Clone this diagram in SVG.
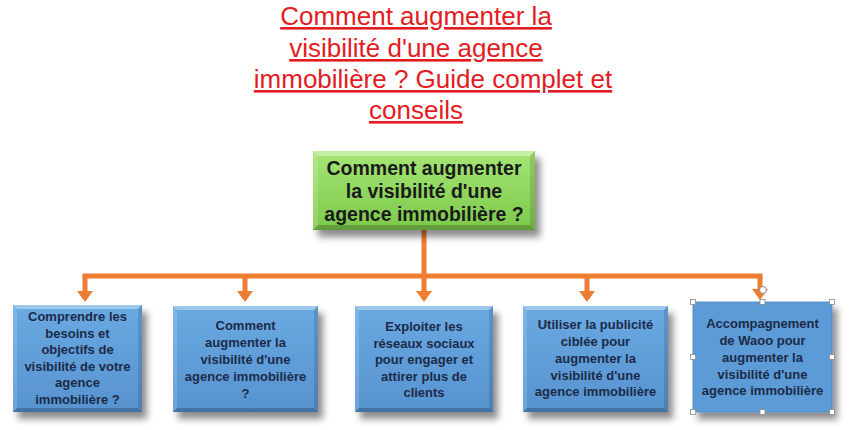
<svg xmlns="http://www.w3.org/2000/svg" width="850" height="430" viewBox="0 0 850 430">
  <defs>
    <style>
      .title { font-family: "Liberation Sans", Arial, sans-serif; font-size: 26px; fill: #e31b23; text-anchor: middle; text-decoration: underline; }
      .gtext { font-family: "Liberation Sans", Arial, sans-serif; font-size: 19.5px; font-weight: bold; fill: #1a1a1a; text-anchor: middle; }
      .btext { font-family: "Liberation Sans", Arial, sans-serif; font-size: 13px; font-weight: bold; fill: #1c2a48; text-anchor: middle; }
      .conn { stroke: #ed7d31; stroke-width: 5; fill: none; }
      .hl { fill: #ffffff; opacity: 0.35; }
      .hs { fill: #ffffff; opacity: 0.15; }
      .dk { fill: #000000; opacity: 0.22; }
      .ds { fill: #000000; opacity: 0.12; }
      .handle { fill: #ffffff; stroke: #8a8a8a; stroke-width: 0.8; }
    </style>
    <linearGradient id="gGreen" x1="0" y1="0" x2="0" y2="1">
      <stop offset="0" stop-color="#a6e676"/>
      <stop offset="1" stop-color="#7cc94a"/>
    </linearGradient>
    <linearGradient id="gBlue" x1="0" y1="0" x2="0" y2="1">
      <stop offset="0" stop-color="#6aa9e2"/>
      <stop offset="1" stop-color="#5793cf"/>
    </linearGradient>
    <filter id="shadow" x="-20%" y="-20%" width="150%" height="150%">
      <feGaussianBlur in="SourceAlpha" stdDeviation="3.5"/>
      <feOffset dx="5" dy="7" result="b"/>
      <feFlood flood-color="#000000" flood-opacity="0.45"/>
      <feComposite in2="b" operator="in"/>
      <feMerge><feMergeNode/><feMergeNode in="SourceGraphic"/></feMerge>
    </filter>
    <marker id="arrow" markerUnits="userSpaceOnUse" viewBox="0 -8 11 16" refX="0" refY="0" markerWidth="11" markerHeight="16" orient="auto">
      <path d="M0,-8 L11,0 L0,8 z" fill="#ed7d31"/>
    </marker>
  </defs>

  <rect width="850" height="430" fill="#ffffff"/>

  <g id="title">
    <text class="title" x="416" y="25">Comment augmenter la</text>
    <text class="title" x="416" y="57">visibilité d'une agence</text>
    <text class="title" x="433" y="88">immobilière ? Guide complet et</text>
    <text class="title" x="416" y="119">conseils</text>
  </g>

  <g id="connectors">
    <path class="conn" d="M424,230 V278"/>
    <path class="conn" d="M82.5,276 H762.5"/>
    <path class="conn" d="M85,276 V291" marker-end="url(#arrow)"/>
    <path class="conn" d="M245,276 V291" marker-end="url(#arrow)"/>
    <path class="conn" d="M424,276 V291" marker-end="url(#arrow)"/>
    <path class="conn" d="M587,276 V291" marker-end="url(#arrow)"/>
    <path class="conn" d="M760,276 V289" marker-end="url(#arrow)"/>
  </g>

  <g id="root">
    <g filter="url(#shadow)">
      <rect x="313" y="151" width="222" height="79" fill="url(#gGreen)"/>
    </g>
    <polygon class="hl" points="313,151 535,151 530,156 318,156"/>
    <polygon class="hs" points="313,151 318,156 318,225 313,230"/>
    <polygon class="ds" points="535,151 530,156 530,225 535,230"/>
    <polygon class="dk" points="313,230 535,230 530,225 318,225"/>
    <text class="gtext" x="424" y="175">Comment augmenter</text>
    <text class="gtext" x="424" y="198">la visibilité d'une</text>
    <text class="gtext" x="424" y="221">agence immobilière ?</text>
  </g>

  <g id="node1">
    <rect x="13" y="305" width="129" height="107" fill="url(#gBlue)" filter="url(#shadow)"/>
    <polygon class="hl" points="13,305 142,305 138,309 17,309"/>
    <polygon class="hs" points="13,305 17,309 17,408 13,412"/>
    <polygon class="ds" points="142,305 138,309 138,408 142,412"/>
    <polygon class="dk" points="13,412 142,412 138,408 17,408"/>
    <text class="btext" x="77.5" y="321">Comprendre les</text>
    <text class="btext" x="77.5" y="337.5">besoins et</text>
    <text class="btext" x="77.5" y="354">objectifs de</text>
    <text class="btext" x="77.5" y="370.5">visibilité de votre</text>
    <text class="btext" x="77.5" y="387">agence</text>
    <text class="btext" x="77.5" y="403.5">immobilière ?</text>
  </g>

  <g id="node2">
    <rect x="173" y="306" width="145" height="106" fill="url(#gBlue)" filter="url(#shadow)"/>
    <polygon class="hl" points="173,306 318,306 314,310 177,310"/>
    <polygon class="hs" points="173,306 177,310 177,408 173,412"/>
    <polygon class="ds" points="318,306 314,310 314,408 318,412"/>
    <polygon class="dk" points="173,412 318,412 314,408 177,408"/>
    <text class="btext" x="245.5" y="330">Comment</text>
    <text class="btext" x="245.5" y="347">augmenter la</text>
    <text class="btext" x="245.5" y="364">visibilité d'une</text>
    <text class="btext" x="245.5" y="381">agence immobilière</text>
    <text class="btext" x="245.5" y="398">?</text>
  </g>

  <g id="node3">
    <rect x="355" y="306" width="138" height="106" fill="url(#gBlue)" filter="url(#shadow)"/>
    <polygon class="hl" points="355,306 493,306 489,310 359,310"/>
    <polygon class="hs" points="355,306 359,310 359,408 355,412"/>
    <polygon class="ds" points="493,306 489,310 489,408 493,412"/>
    <polygon class="dk" points="355,412 493,412 489,408 359,408"/>
    <text class="btext" x="424" y="331">Exploiter les</text>
    <text class="btext" x="424" y="347.5">réseaux sociaux</text>
    <text class="btext" x="424" y="364">pour engager et</text>
    <text class="btext" x="424" y="380.5">attirer plus de</text>
    <text class="btext" x="424" y="397">clients</text>
  </g>

  <g id="node4">
    <rect x="523" y="306" width="145" height="106" fill="url(#gBlue)" filter="url(#shadow)"/>
    <polygon class="hl" points="523,306 668,306 664,310 527,310"/>
    <polygon class="hs" points="523,306 527,310 527,408 523,412"/>
    <polygon class="ds" points="668,306 664,310 664,408 668,412"/>
    <polygon class="dk" points="523,412 668,412 664,408 527,408"/>
    <text class="btext" x="595.5" y="329">Utiliser la publicité</text>
    <text class="btext" x="595.5" y="346">ciblée pour</text>
    <text class="btext" x="595.5" y="363">augmenter la</text>
    <text class="btext" x="595.5" y="380">visibilité d'une</text>
    <text class="btext" x="595.5" y="396">agence immobilière</text>
  </g>

  <g id="node5">
    <rect x="693" y="302" width="139" height="110" fill="#5b9bd5" stroke="#4a86c0" stroke-width="0.8" filter="url(#shadow)"/>
    <text class="btext" x="762.5" y="328">Accompagnement</text>
    <text class="btext" x="762.5" y="345">de Waoo pour</text>
    <text class="btext" x="762.5" y="362">augmenter la</text>
    <text class="btext" x="762.5" y="378.5">visibilité d'une</text>
    <text class="btext" x="762.5" y="395">agence immobilière</text>
    <rect class="handle" x="690.5" y="299.5" width="5" height="5"/>
    <rect class="handle" x="760" y="299.5" width="5" height="5"/>
    <rect class="handle" x="829.5" y="299.5" width="5" height="5"/>
    <rect class="handle" x="690.5" y="354.5" width="5" height="5"/>
    <rect class="handle" x="829.5" y="354.5" width="5" height="5"/>
    <rect class="handle" x="690.5" y="409.5" width="5" height="5"/>
    <rect class="handle" x="760" y="409.5" width="5" height="5"/>
    <rect class="handle" x="829.5" y="409.5" width="5" height="5"/>
    <circle cx="763" cy="290" r="3.5" fill="#ffffff" stroke="#8a8a8a" stroke-width="1"/>
  </g>
</svg>
